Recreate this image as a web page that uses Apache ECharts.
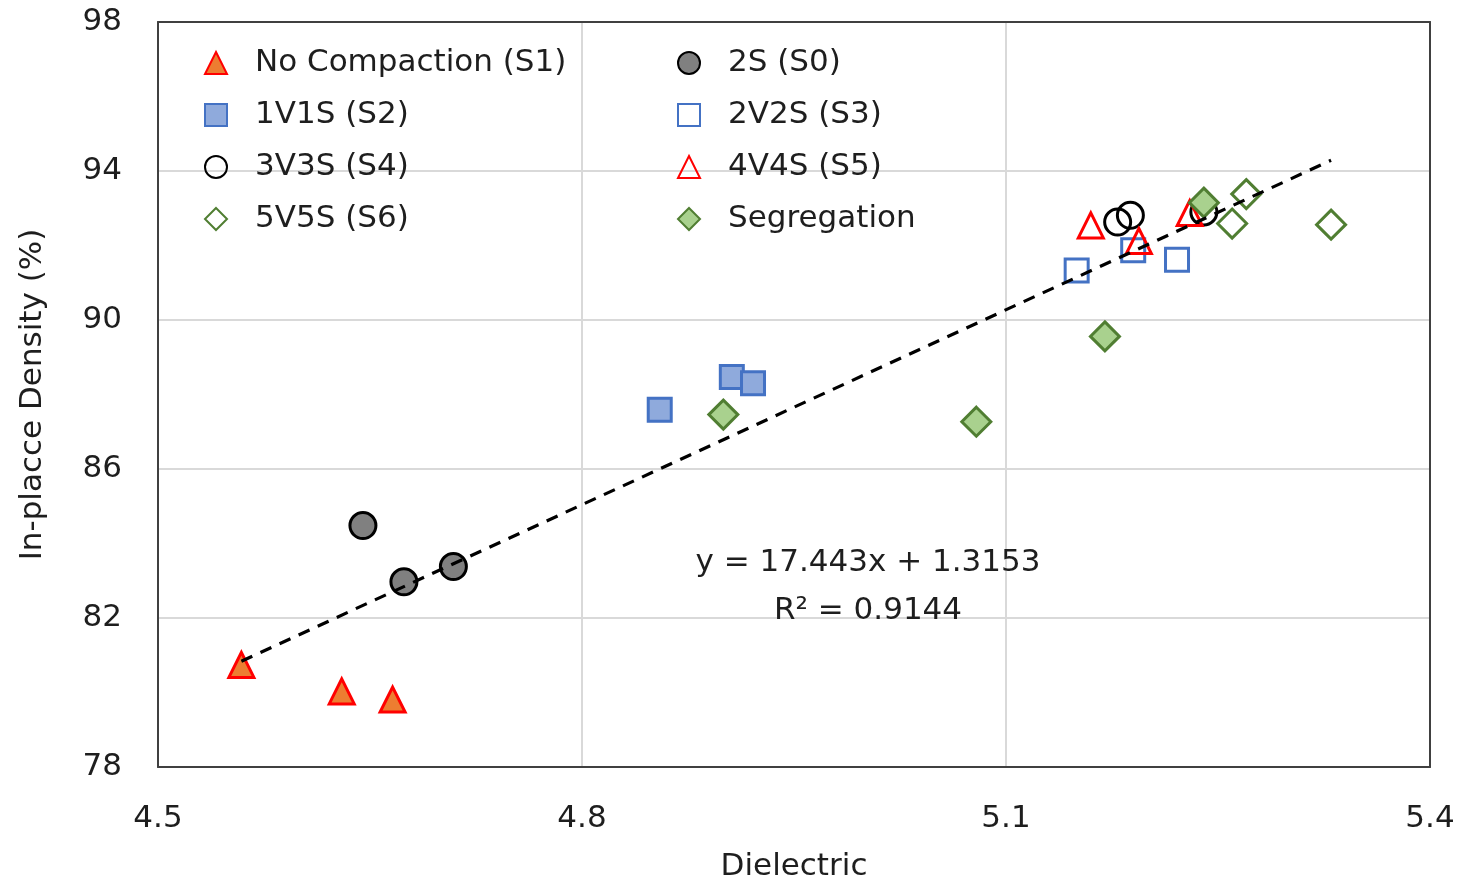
<!DOCTYPE html>
<html>
<head>
<meta charset="utf-8">
<script src="https://cdn.jsdelivr.net/npm/echarts@6/dist/echarts.min.js"></script>
<style>
  html, body { margin: 0; padding: 0; background: #fff; }
  #chart { width: 1459px; height: 884px; }
</style>
</head>
<body>
<div id="chart"></div>
<script>
// Dielectric value vs. in-place density, per compaction stage
const noCompactionS1 = [[4.559, 80.74], [4.630, 80.03], [4.666, 79.81]];
const twoS_S0 = [[4.645, 84.48], [4.674, 82.97], [4.709, 83.38]];
const oneV1S_S2 = [[4.855, 87.59], [4.906, 88.47], [4.921, 88.30]];
const twoV2S_S3 = [[5.150, 91.33], [5.190, 91.87], [5.221, 91.62]];
const threeV3S_S4 = [[5.179, 92.63], [5.188, 92.81], [5.240, 92.90]];
const fourV4S_S5 = [[5.160, 92.54], [5.194, 92.12], [5.230, 92.87]];
const fiveV5S_S6 = [[5.270, 93.38], [5.260, 92.59], [5.330, 92.56]];
const segregation = [[4.900, 87.46], [5.079, 87.27], [5.170, 89.56], [5.240, 93.15]];

// Linear trendline fitted over all points
const slope = 17.443;
const intercept = 1.3153;
const rSquared = 0.9144;
const trendRange = [4.559, 5.330];

const xTicks = { min: 4.5, max: 5.4, interval: 0.3 };
const yTicks = { min: 78, max: 98, interval: 4 };

const FONT = '"DejaVu Sans", sans-serif';
const FS = 31;
const TEXT = '#1e1e1e';
const FRAME = '#404040';

function scatter(name, data, symbol, size, fill, stroke) {
  return {
    name, type: 'scatter', data, symbol, symbolSize: size,
    itemStyle: { color: fill, borderColor: stroke, borderWidth: 3, opacity: 1 },
    z: 3
  };
}

const series = [
  scatter('No Compaction (S1)', noCompactionS1, 'triangle', 25, '#ED7D31', '#FF0000'),
  scatter('2S (S0)', twoS_S0, 'circle', 26, '#808080', '#000000'),
  scatter('1V1S (S2)', oneV1S_S2, 'rect', 23, '#8FAADC', '#4472C4'),
  scatter('2V2S (S3)', twoV2S_S3, 'rect', 23, '#FFFFFF', '#4472C4'),
  scatter('3V3S (S4)', threeV3S_S4, 'circle', 26, 'rgba(255,255,255,0)', '#000000'),
  scatter('4V4S (S5)', fourV4S_S5, 'triangle', 25, 'rgba(255,255,255,0)', '#FF0000'),
  scatter('5V5S (S6)', fiveV5S_S6, 'diamond', 29, 'rgba(255,255,255,0)', '#507E32'),
  scatter('Segregation', segregation, 'diamond', 29, '#A9D18E', '#507E32'),
  {
    name: 'Linear fit', type: 'line', symbol: 'none', silent: true, z: 5,
    data: trendRange.map(x => [x, slope * x + intercept]),
    lineStyle: { color: '#000', width: 3.2, type: [12, 9] }
  }
];

const legendBase = {
  orient: 'vertical', selectedMode: false, padding: 5,
  itemWidth: 22, itemHeight: 22, itemGap: 20,
  textStyle: { fontFamily: FONT, fontSize: FS, color: TEXT, lineHeight: 32, padding: [0, 0, 0, 23] }
};

const frameAxis = {
  axisLine: { show: true, lineStyle: { color: FRAME, width: 2 } },
  axisTick: { show: false }, axisLabel: { show: false }, splitLine: { show: false }
};

const chart = echarts.init(document.getElementById('chart'), null, { renderer: 'canvas' });
chart.setOption({
  backgroundColor: '#fff',
  animation: false,
  grid: { left: 158, top: 22, right: 29, bottom: 117, containLabel: false, outerBoundsMode: 'none' },
  legend: [
    Object.assign({}, legendBase, { left: 199, top: 42, data: ['No Compaction (S1)', '1V1S (S2)', '3V3S (S4)', '5V5S (S6)'] }),
    Object.assign({}, legendBase, { left: 672, top: 42, data: ['2S (S0)', '2V2S (S3)', '4V4S (S5)', 'Segregation'] })
  ],
  xAxis: [{
    type: 'value', min: xTicks.min, max: xTicks.max, interval: xTicks.interval,
    name: 'Dielectric', nameLocation: 'middle', nameGap: 84,
    nameTextStyle: { fontFamily: FONT, fontSize: FS, color: TEXT },
    axisLine: { show: true, onZero: false, lineStyle: { color: FRAME, width: 2 } }, axisTick: { show: false },
    axisLabel: { fontFamily: FONT, fontSize: FS, color: TEXT, margin: 36, formatter: v => v.toFixed(1) },
    splitLine: { show: true, lineStyle: { color: '#D9D9D9', width: 2 } }
  }, Object.assign({ type: 'value', position: 'top', min: xTicks.min, max: xTicks.max }, frameAxis)],
  yAxis: [{
    type: 'value', min: yTicks.min, max: yTicks.max, interval: yTicks.interval,
    name: 'In-placce Density (%)', nameLocation: 'middle', nameGap: 110,
    nameTextStyle: { fontFamily: FONT, fontSize: FS, color: TEXT },
    axisLine: { show: true, onZero: false, lineStyle: { color: FRAME, width: 2 } }, axisTick: { show: false },
    axisLabel: { fontFamily: FONT, fontSize: FS, color: TEXT, margin: 36 },
    splitLine: { show: true, lineStyle: { color: '#D9D9D9', width: 2 } }
  }, Object.assign({ type: 'value', position: 'right', min: yTicks.min, max: yTicks.max }, frameAxis)],
  graphic: [{
    type: 'text', x: 868, y: 587, z: 10,
    style: {
      text: 'y = ' + slope.toFixed(3) + 'x + ' + intercept.toFixed(4) + '\nR² = ' + rSquared.toFixed(4),
      fontFamily: FONT, fontSize: FS, fill: TEXT, align: 'center', verticalAlign: 'middle', lineHeight: 48
    }
  }],
  series
});
</script>
</body>
</html>
